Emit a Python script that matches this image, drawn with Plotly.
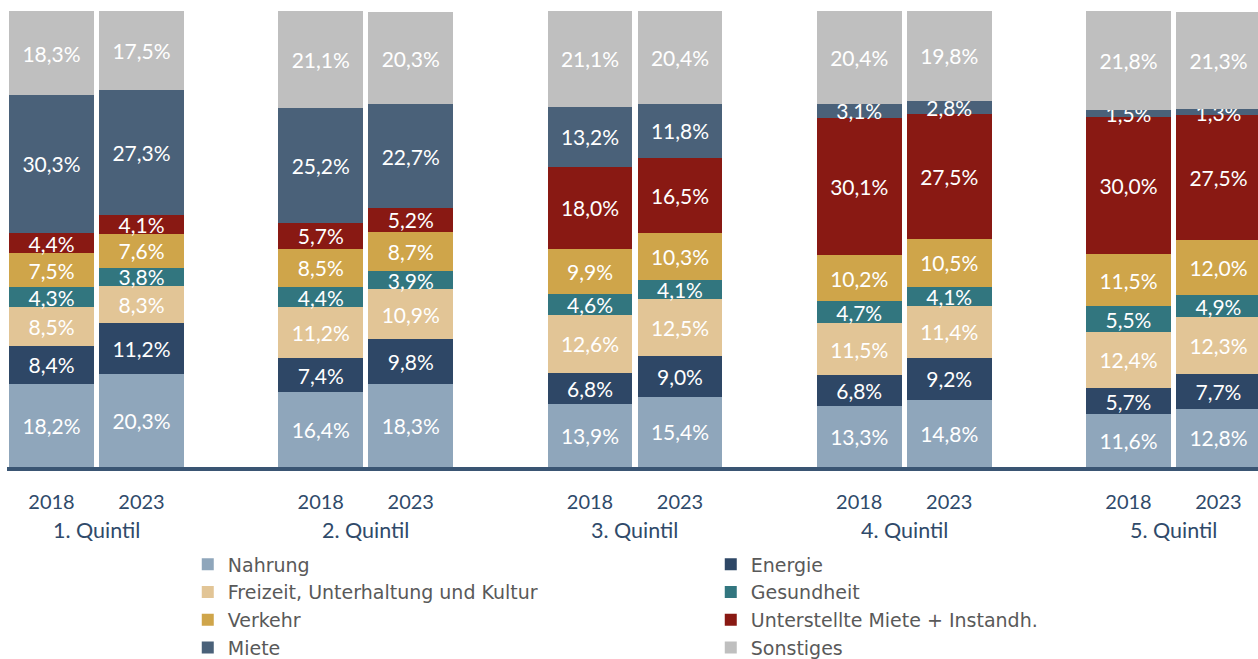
import plotly.graph_objects as go

quintiles = ["1. Quintil", "2. Quintil", "3. Quintil", "4. Quintil", "5. Quintil"]
years = ["2018", "2023"]

series_names = [
    "Nahrung",
    "Energie",
    "Freizeit, Unterhaltung und Kultur",
    "Gesundheit",
    "Verkehr",
    "Unterstellte Miete + Instandh.",
    "Miete",
    "Sonstiges",
]
# order of bars: Q1-2018, Q1-2023, Q2-2018, Q2-2023, ... Q5-2023
nahrung = [18.2, 20.3, 16.4, 18.3, 13.9, 15.4, 13.3, 14.8, 11.6, 12.8]
energie = [8.4, 11.2, 7.4, 9.8, 6.8, 9.0, 6.8, 9.2, 5.7, 7.7]
freizeit = [8.5, 8.3, 11.2, 10.9, 12.6, 12.5, 11.5, 11.4, 12.4, 12.3]
gesundheit = [4.3, 3.8, 4.4, 3.9, 4.6, 4.1, 4.7, 4.1, 5.5, 4.9]
verkehr = [7.5, 7.6, 8.5, 8.7, 9.9, 10.3, 10.2, 10.5, 11.5, 12.0]
unterstellt = [4.4, 4.1, 5.7, 5.2, 18.0, 16.5, 30.1, 27.5, 30.0, 27.5]
miete = [30.3, 27.3, 25.2, 22.7, 13.2, 11.8, 3.1, 2.8, 1.5, 1.3]
sonstiges = [18.3, 17.5, 21.1, 20.3, 21.1, 20.4, 20.4, 19.8, 21.8, 21.3]

series_values = [nahrung, energie, freizeit, gesundheit, verkehr, unterstellt, miete, sonstiges]
colors = ["#8FA6BB", "#2E4766", "#E2C596", "#32767F", "#CFA54A", "#891913", "#4A6179", "#BFBFBF"]

FONT = "Lato"
AXIS_COLOR = "#2F4A6A"
GROUP_PITCH = 2.9917
BAR_WIDTH = 0.944

x_pos = [g * GROUP_PITCH + j for g in range(len(quintiles)) for j in range(len(years))]
tick_text = [y for _ in quintiles for y in years]


def fmt(v):
    return f"{v:.1f}%".replace(".", ",")


fig = go.Figure()
for name, vals, col in zip(series_names, series_values, colors):
    fig.add_trace(go.Bar(
        x=x_pos, y=vals, name=name, width=BAR_WIDTH,
        marker=dict(color=col, line=dict(width=0)),
        text=[fmt(v) for v in vals], textposition="inside",
        insidetextanchor="middle", textangle=0,
        textfont=dict(family=FONT, size=21, color="white"),
        cliponaxis=True,
    ))

for g, q in enumerate(quintiles):
    fig.add_annotation(
        x=g * GROUP_PITCH + 0.5, y=-0.138, xref="x", yref="paper",
        text=q, showarrow=False, yanchor="middle",
        font=dict(family=FONT, size=21.5, color=AXIS_COLOR),
    )

fig.update_layout(
    width=1258, height=659,
    barmode="stack",
    paper_bgcolor="white", plot_bgcolor="white",
    margin=dict(l=7, r=0, t=11, b=192, autoexpand=False),
    uniformtext=dict(minsize=21, mode="show"),
    separators=",.",
    font=dict(family=FONT),
    showlegend=True,
    legend=dict(
        orientation="h", x=0.1445, xanchor="left", y=-0.172, yanchor="top",
        entrywidth=478, entrywidthmode="pixels", traceorder="normal",
        font=dict(family="DejaVu Sans", size=19, color="#595959"),
        bgcolor="rgba(0,0,0,0)",
    ),
    xaxis=dict(
        range=[-0.4944, 13.406], tickvals=x_pos, ticktext=tick_text,
        showline=True, linewidth=4, linecolor="#3A5573",
        showgrid=False, zeroline=False, ticks="",
        ticklabelstandoff=14,
        tickfont=dict(family=FONT, size=20, color=AXIS_COLOR),
    ),
    yaxis=dict(range=[0, 100], visible=False),
)

fig.write_html(
    "out.html",
    config={"displayModeBar": False},
    post_script="document.body.style.margin='0';document.body.style.overflow='hidden';",
)
